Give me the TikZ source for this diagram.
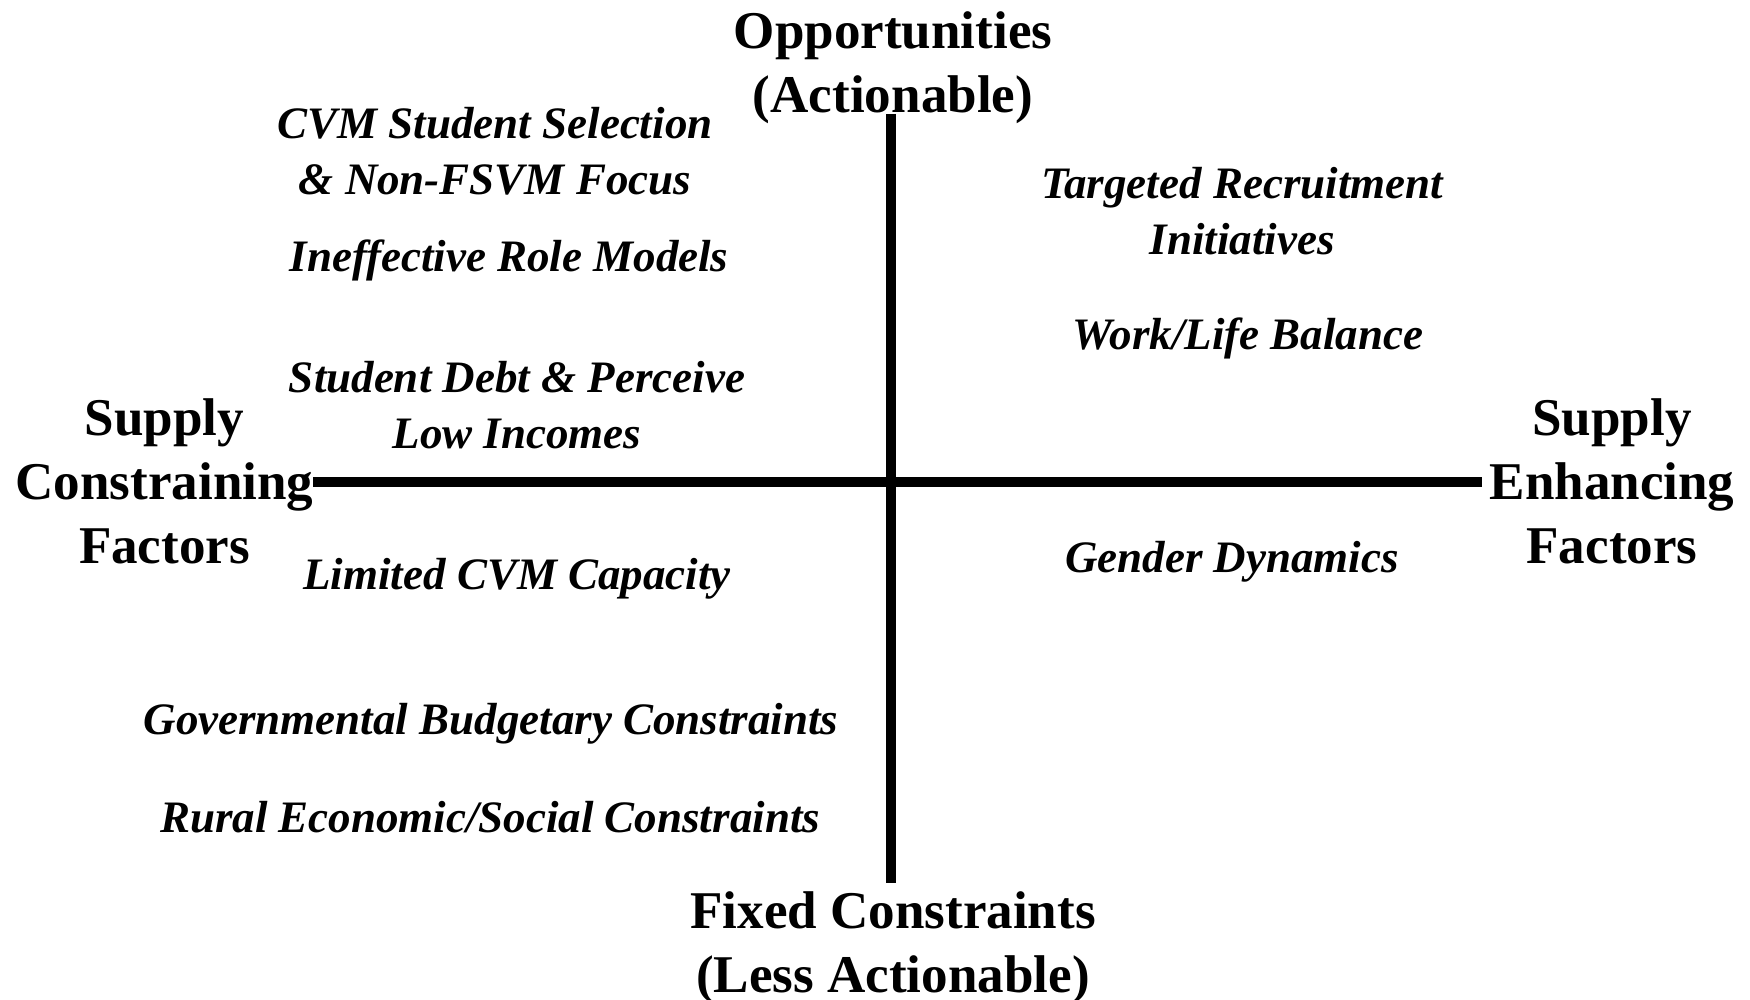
\documentclass[tikz,border=0pt]{standalone}
\usepackage{fontspec}
\setmainfont{Liberation Serif}

\tikzset{
  axislabel/.style={align=center, inner sep=0pt, font=\fontsize{15.1}{18.2}\selectfont\bfseries},
  factor/.style={align=center, inner sep=0pt, font=\fontsize{12.8}{16}\selectfont\bfseries\itshape},
  axisline/.style={line width=2.85pt}
}

\begin{document}
\begin{tikzpicture}[line join=round]

            \useasboundingbox (0,0) rectangle (17.5,10);

             % axis titles
             \node[axislabel] (opp)    at (8.93,9.32) {Opportunities\\(Actionable)};
             \node[axislabel] (fixed)  at (8.93,0.52) {Fixed Constraints\\(Less Actionable)};
             \node[axislabel] (constr) at (1.645,5.19) {Supply\\Constraining\\Factors};
             \node[axislabel] (enh)    at (16.12,5.19) {Supply\\Enhancing\\Factors};

             \coordinate (top)    at (8.91,8.86);
             \coordinate (bottom) at (8.91,1.17);
             \coordinate (left)   at (3.13,5.18);
             \coordinate (right)  at (14.82,5.18);

             \draw[axisline] (top) -- (bottom);
             \draw[axisline] (left) -- (right);

             % constraining side
             \node[factor] (cvm)      at (4.95,8.49) {CVM Student Selection\\\& Non-FSVM Focus};
             \node[factor] (rolemod)  at (5.09,7.40) {Ineffective Role Models};
             \node[factor] (debt)     at (5.17,5.95) {Student Debt \& Perceive\\Low Incomes};
             \node[factor] (capacity) at (5.17,4.21) {Limited CVM Capacity};
             \node[factor] (budget)   at (4.91,2.76) {Governmental Budgetary Constraints};
             \node[factor] (rural)    at (4.90,1.83) {Rural Economic/Social Constraints};

             % enhancing side
             \node[factor] (recruit)  at (12.42,7.89) {Targeted Recruitment\\Initiatives};
             \node[factor] (worklife) at (12.48,6.62) {Work/Life Balance};
             \node[factor] (gender)   at (12.32,4.38) {Gender Dynamics};

            \end{tikzpicture}
\end{document}
